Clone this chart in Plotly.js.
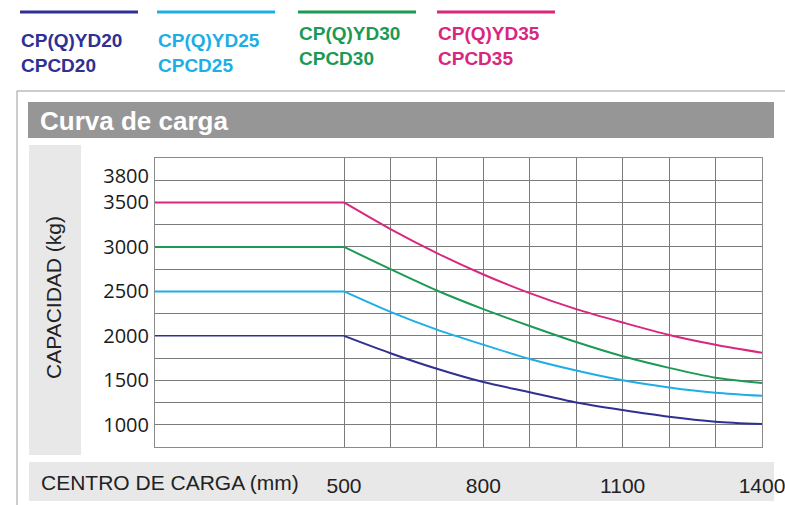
<!DOCTYPE html>
<html>
<head>
<meta charset="utf-8">
<script src="https://cdn.plot.ly/plotly-3.0.1.min.js"></script>
<style>html,body{margin:0;padding:0;background:#fff;}#chart{width:785px;height:505px;}</style>
</head>
<body>
<div id="chart"></div>
<script>
// ---- data ----
const loadCenter = [0, 500, 600, 700, 800, 900, 1000, 1100, 1200, 1300, 1400];
const cap20 = [2000, 2000, 1805, 1630, 1480, 1365, 1250, 1165, 1090, 1035, 1008];
const cap25 = [2500, 2500, 2270, 2070, 1900, 1740, 1610, 1500, 1420, 1360, 1325];
const cap30 = [3000, 3000, 2750, 2510, 2300, 2110, 1930, 1770, 1640, 1530, 1470];
const cap35 = [3500, 3500, 3200, 2930, 2690, 2480, 2300, 2150, 2010, 1900, 1810];
const modelNames = ['CP(Q)YD20', 'CP(Q)YD25', 'CP(Q)YD30', 'CP(Q)YD35'];
const modelNames2 = ['CPCD20', 'CPCD25', 'CPCD30', 'CPCD35'];
const xTickVals = [500, 600, 700, 800, 900, 1000, 1100, 1200, 1300, 1400];
const xTickText = ['500', '', '', '800', '', '', '1100', '', '', '1400'];
const yTickVals = [1000, 1500, 2000, 2500, 3000, 3500, 3800];
const yTickText = ['1000', '1500', '2000', '2500', '3000', '3500', '3800'];
const chartTitle = 'Curva de carga';
const xTitle = 'CENTRO DE CARGA (mm)';
const yTitle = 'CAPACIDAD (kg)';

// ---- styling ----
const colors = ['#2e3192', '#1eaee6', '#1b9a55', '#d9267f'];
const series = [cap20, cap25, cap30, cap35];

const W = 785, H = 505;
const mL = 155, mR = 23, mT = 158, mB = 58;
const pw = W - mL - mR, ph = H - mT - mB;
const px = x => (x - mL) / pw;
const py = y => (H - mB - y) / ph;

const traces = [];
series.forEach((s, i) => {
  // flat (constant capacity) part
  traces.push({
    x: loadCenter.slice(0, 2), y: s.slice(0, 2), type: 'scatter', mode: 'lines',
    name: modelNames[i] + ' ' + modelNames2[i],
    line: {color: colors[i], width: i === 0 ? 1.5 : 2}, hoverinfo: 'x+y'
  });
  // decreasing part
  traces.push({
    x: loadCenter.slice(1), y: s.slice(1), type: 'scatter', mode: 'lines',
    name: modelNames[i] + ' ' + modelNames2[i],
    line: {color: colors[i], width: 2, shape: 'spline', smoothing: 0.8}, hoverinfo: 'x+y'
  });
});

const shapes = [
  {type: 'rect', xref: 'paper', yref: 'paper', x0: px(17), x1: px(800), y0: py(91), y1: py(520),
   line: {color: '#9a9a9a', width: 1}, fillcolor: 'rgba(0,0,0,0)', layer: 'below'},
  {type: 'rect', xref: 'paper', yref: 'paper', x0: px(28), x1: px(774), y0: py(102), y1: py(138),
   line: {width: 0}, fillcolor: '#969696', layer: 'below'},
  {type: 'rect', xref: 'paper', yref: 'paper', x0: px(29), x1: px(81), y0: py(145), y1: py(455),
   line: {width: 0}, fillcolor: '#e8e8e9', layer: 'below'},
  {type: 'rect', xref: 'paper', yref: 'paper', x0: px(29), x1: px(774), y0: py(462), y1: py(501),
   line: {width: 0}, fillcolor: '#e8e8e9', layer: 'below'}
];

const legendX = [20, 157, 298, 437];
const legendTextY = [40, 40, 33, 33];
const annotations = [
  {xref: 'paper', yref: 'paper', x: px(38), y: py(121), xanchor: 'left', yanchor: 'middle',
   text: '<b>' + chartTitle + '</b>', showarrow: false,
   font: {family: 'Liberation Sans, Arial, sans-serif', size: 26, color: '#ffffff'}},
  {xref: 'paper', yref: 'paper', x: px(53), y: py(297), xanchor: 'center', yanchor: 'middle',
   text: yTitle, textangle: -90, showarrow: false,
   font: {family: 'Liberation Sans, Arial, sans-serif', size: 21, color: '#222'}},
  {xref: 'paper', yref: 'paper', x: px(39), y: py(482), xanchor: 'left', yanchor: 'middle',
   text: xTitle, showarrow: false,
   font: {family: 'Liberation Sans, Arial, sans-serif', size: 21, color: '#222'}}
];
modelNames.forEach((n, i) => {
  shapes.push({type: 'line', xref: 'paper', yref: 'paper', x0: px(legendX[i]), x1: px(legendX[i] + 118),
    y0: py(12), y1: py(12), line: {color: colors[i], width: 3}});
  annotations.push({xref: 'paper', yref: 'paper', x: px(legendX[i] - 1), y: py(legendTextY[i] - 12),
    xanchor: 'left', yanchor: 'top', align: 'left', showarrow: false,
    text: '<b>' + n + '<br>' + modelNames2[i] + '</b>',
    font: {family: 'Liberation Sans, Arial, sans-serif', size: 19, color: colors[i]}});
});

const layout = {
  width: W, height: H,
  margin: {l: mL, r: mR, t: mT, b: mB, pad: 0},
  paper_bgcolor: '#ffffff', plot_bgcolor: '#ffffff',
  showlegend: false,
  xaxis: {
    range: [93, 1400], tickmode: 'array', tickvals: xTickVals, ticktext: xTickText,
    showgrid: true, gridcolor: '#7b7b7b', gridwidth: 1,
    zeroline: false, showline: true, linecolor: '#8a8a8a', linewidth: 1, mirror: true,
    ticks: 'outside', ticklen: 20, tickcolor: 'rgba(0,0,0,0)',
    ticklabeloverflow: 'allow',
    tickfont: {family: 'Liberation Sans, Arial, sans-serif', size: 21, color: '#222'}
  },
  yaxis: {
    range: [750, 4000], tickmode: 'array', tickvals: yTickVals, ticktext: yTickText,
    showgrid: false,
    minor: {dtick: 250, tick0: 0, showgrid: true, gridcolor: '#7b7b7b', gridwidth: 1, ticks: ''},
    zeroline: false, showline: true, linecolor: '#8a8a8a', linewidth: 1, mirror: true,
    ticks: 'outside', ticklen: 1, tickcolor: 'rgba(0,0,0,0)',
    tickfont: {family: 'Open Sans, Noto Sans, sans-serif', size: 20, color: '#1a1a1a'}
  },
  shapes: shapes,
  annotations: annotations
};

Plotly.newPlot('chart', traces, layout, {displayModeBar: false, staticPlot: true});
</script>
</body>
</html>
